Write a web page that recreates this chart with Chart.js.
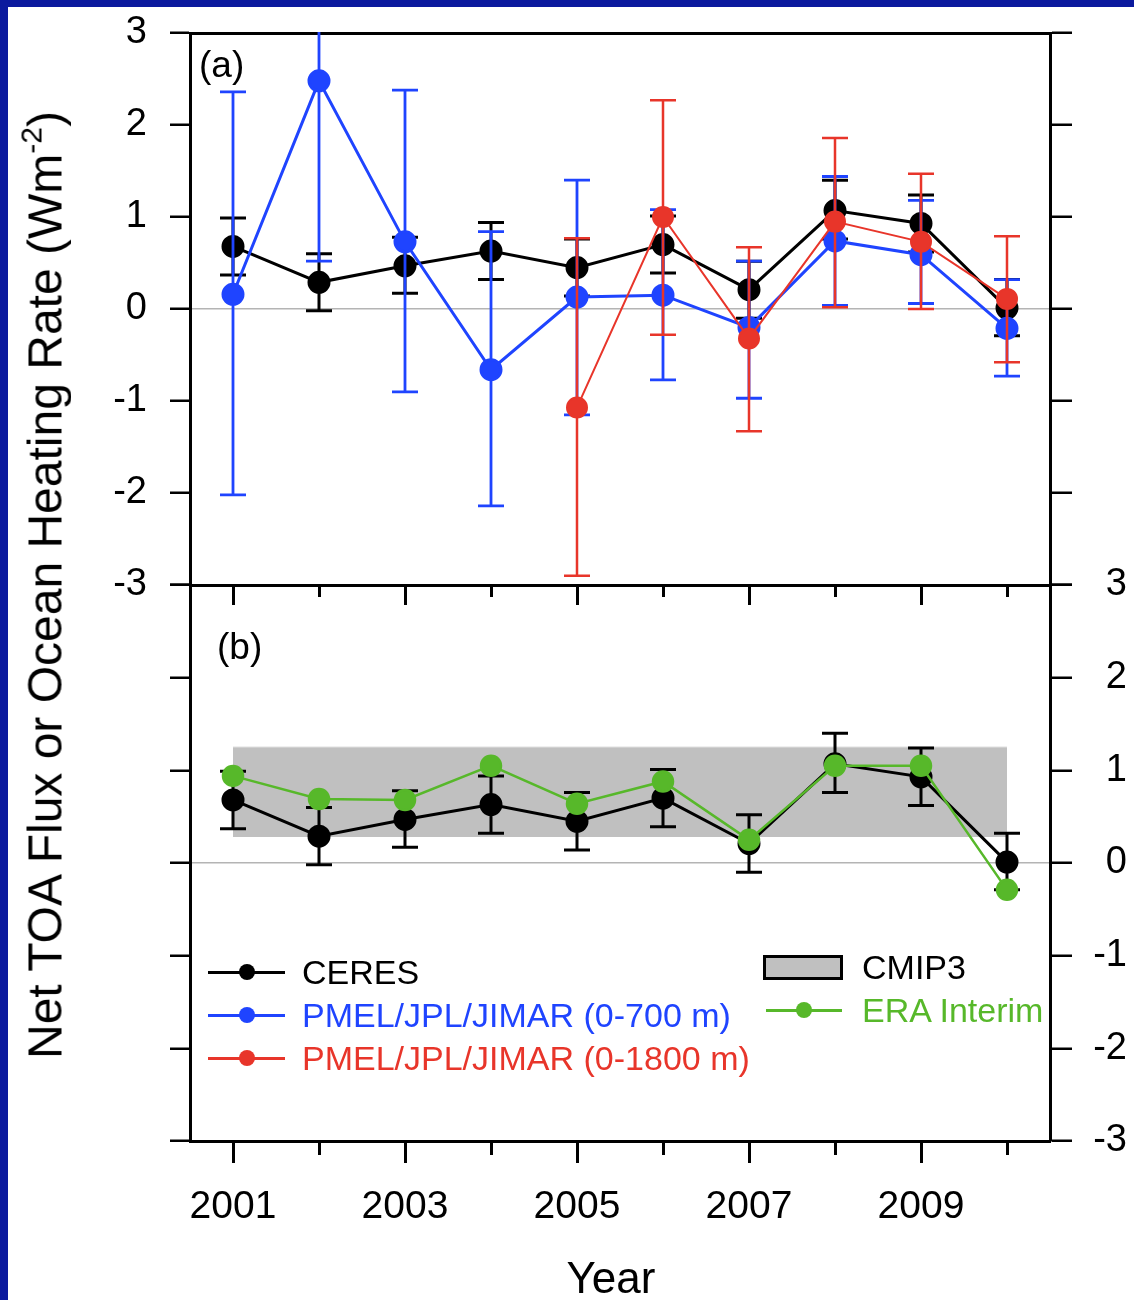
<!DOCTYPE html>
<html>
<head>
<meta charset="utf-8">
<script src="https://cdn.jsdelivr.net/npm/chart.js@4.4.1/dist/chart.umd.min.js"></script>
<style>
  html, body { margin: 0; padding: 0; background: #fff; }
  #page { position: relative; width: 1134px; height: 1300px; overflow: hidden; background: #fff;
          font-family: "Liberation Sans", Arial, sans-serif; color: #000; }
  canvas { position: absolute; left: 0; top: 0; }
  .frame { position: absolute; background: #0b1a9e; }
  .txt { position: absolute; white-space: nowrap; line-height: 1; }
  .ytitle { position: absolute; left: 43px; top: 585px; font-size: 48px; line-height: 1; white-space: nowrap;
            transform: translate(-50%, -50%) rotate(-90deg); }
  .ytitle sup { font-size: 30px; vertical-align: 20px; }
  .leg-line { position: absolute; }
  .leg-dot { position: absolute; border-radius: 50%; }
  .leg-box { position: absolute; background: #c0c0c0; border: 3px solid #000; box-sizing: border-box; }
</style>
</head>
<body>
<div id="page">
  <canvas id="panelA" width="1134" height="1300"></canvas>
  <canvas id="panelB" width="1134" height="1300"></canvas>
  <div class="frame" style="left:0;top:0;width:1134px;height:7px"></div>
  <div class="frame" style="left:0;top:0;width:8px;height:1300px"></div>
  <div class="txt" style="left:199px;top:46px;font-size:37px">(a)</div>
  <div class="txt" style="left:217px;top:628px;font-size:37px">(b)</div>
  <div class="ytitle">Net TOA Flux or Ocean Heating Rate (Wm<sup>-2</sup>)</div>
  <div class="txt" style="left:611px;top:1256px;font-size:44px;transform:translateX(-50%)">Year</div>
  <div id="legend"></div>
</div>
<script>
// years on the x axis
const years = [2001, 2002, 2003, 2004, 2005, 2006, 2007, 2008, 2009, 2010];
const labelYears = [2001, 2003, 2005, 2007, 2009];

// CERES net TOA flux with its error range
const ceres   = [0.68, 0.29, 0.47, 0.63, 0.45, 0.70, 0.21, 1.07, 0.93, 0.01];
const ceresLo = [0.37, -0.02, 0.17, 0.32, 0.14, 0.39, -0.10, 0.76, 0.62, -0.29];
const ceresHi = [0.99, 0.60, 0.78, 0.94, 0.76, 1.01, 0.52, 1.40, 1.24, 0.32];

// PMEL/JPL/JIMAR 0-700 m
const pmel700   = [0.16, 2.48, 0.73, -0.66, 0.13, 0.15, -0.20, 0.74, 0.59, -0.21];
const pmel700Lo = [-2.02, 0.52, -0.90, -2.14, -1.15, -0.77, -0.97, 0.04, 0.06, -0.73];
const pmel700Hi = [2.36, 4.44, 2.38, 0.84, 1.40, 1.08, 0.52, 1.44, 1.18, 0.32];

// PMEL/JPL/JIMAR 0-1800 m (from 2005)
const pmel1800   = [null, null, null, null, -1.07, 1.00, -0.32, 0.95, 0.73, 0.11];
const pmel1800Lo = [null, null, null, null, -2.90, -0.28, -1.33, 0.02, 0.00, -0.58];
const pmel1800Hi = [null, null, null, null, 0.77, 2.27, 0.67, 1.86, 1.47, 0.79];

// ERA Interim
const era = [0.94, 0.69, 0.68, 1.05, 0.64, 0.88, 0.25, 1.05, 1.05, -0.29];

// CMIP3 range
const cmip3Years = [2001, 2010];
const cmip3Low  = [0.28, 0.28];
const cmip3High = [1.25, 1.25];

const BLACK = '#000000';
const BLUE = '#1f44ff';
const RED = '#e8352a';
const GREEN = '#57b82a';
const GRAY = '#c0c0c0';

Chart.defaults.font.family = '"Liberation Sans", Arial, sans-serif';
Chart.defaults.color = '#000';

function pts(xs, ys) {
    return xs.map(function (x, i) { return {x: x, y: ys[i]}; });
}

// vertical error bars, drawn just before each line so the stacking matches
const errorBars = {
    id: 'errorBars',
    beforeDatasetDraw(chart, args) {
        const ds = chart.data.datasets[args.index];
        if (!ds.errLo) return;
        const xs = chart.scales.x, ys = chart.scales.y, area = chart.chartArea;
        const ctx = chart.ctx;
        ctx.save();
        ctx.beginPath();
        ctx.rect(area.left, area.top - 1, area.right - area.left, area.bottom - area.top + 2);
        ctx.clip();
        ctx.strokeStyle = ds.borderColor;
        ctx.lineWidth = ds.errWidth || 2.5;
        ds.data.forEach(function (p, i) {
            if (p.y == null) return;
            const px = xs.getPixelForValue(p.x);
            const lo = ys.getPixelForValue(ds.errLo[i]);
            const hi = ys.getPixelForValue(ds.errHi[i]);
            ctx.beginPath();
            ctx.moveTo(px, lo); ctx.lineTo(px, hi);
            ctx.moveTo(px - 13, lo); ctx.lineTo(px + 13, lo);
            ctx.moveTo(px - 13, hi); ctx.lineTo(px + 13, hi);
            ctx.stroke();
        });
        ctx.restore();
    }
};

function yearTicks(scale) {
    scale.ticks = years.map(function (v) { return {value: v}; });
}
function minorDash(len) {
    return function (c) { return (c.tick && c.tick.value % 2 === 0) ? [len, 300] : []; };
}
function zeroLine(c) {
    return (c.tick && c.tick.value === 0) ? '#b4b4b4' : 'rgba(0,0,0,0)';
}
const border = {display: true, color: '#000', width: 3};

function xAxis(showLabels, tickLen, minorLen, height) {
    return {
        type: 'linear', position: 'bottom', min: 2000.5, max: 2010.5,
        afterBuildTicks: yearTicks,
        afterFit: function (s) { s.height = height; s.paddingLeft = 0; s.paddingRight = 0; },
        border: border,
        grid: {drawOnChartArea: false, tickLength: tickLen, tickWidth: 3, tickColor: '#000',
               tickBorderDash: minorDash(minorLen)},
        ticks: {display: showLabels, autoSkip: false, maxRotation: 0, padding: 21,
                font: {size: 39},
                callback: function (v) { return labelYears.indexOf(v) >= 0 ? String(v) : ''; }}
    };
}
function yAxis(pos, showLabels, width, tickLen) {
    return {
        type: 'linear', position: pos, min: -3, max: 3,
        // keep the label overhang from pushing the plot area around
        afterFit: function (s) { s.width = width; s.paddingTop = 0; s.paddingBottom = 0; },
        border: border,
        grid: {drawOnChartArea: pos === 'left', color: zeroLine, lineWidth: 1.5,
               tickLength: tickLen, tickWidth: 2.5, tickColor: '#000'},
        ticks: {display: showLabels, stepSize: 1, padding: 23, crossAlign: pos === 'right' ? 'far' : 'near',
                font: {size: 38}, callback: function (v) { return String(v); }}
    };
}
function baseOptions(padding, scales) {
    return {
        responsive: false, animation: false, devicePixelRatio: 1,
        layout: {padding: padding},
        plugins: {legend: {display: false}, tooltip: {enabled: false}},
        elements: {line: {tension: 0}, point: {borderWidth: 0, hoverRadius: 10}},
        scales: scales
    };
}
function series(label, ys, color, width, order, lo, hi, errWidth) {
    return {label: label, data: pts(years, ys), borderColor: color, backgroundColor: color,
            pointBackgroundColor: color, borderWidth: width, pointRadius: 10, order: order,
            errLo: lo, errHi: hi, errWidth: errWidth, spanGaps: false};
}

// panel (a)
new Chart(document.getElementById('panelA'), {
    type: 'line',
    data: {datasets: [
        series('CERES', ceres, BLACK, 3, 3, ceresLo, ceresHi, 3),
        series('PMEL/JPL/JIMAR (0-700 m)', pmel700, BLUE, 3, 2, pmel700Lo, pmel700Hi, 2.8),
        series('PMEL/JPL/JIMAR (0-1800 m)', pmel1800, RED, 2, 1, pmel1800Lo, pmel1800Hi, 2.5)
    ]},
    options: baseOptions({left: 0, top: 33, right: 7, bottom: 1300 - 585 - 20}, {
        x: xAxis(false, 20, 10, 20),
        xTop: {type: 'linear', position: 'top', min: 2000.5, max: 2010.5, border: border,
               afterFit: function (s) { s.height = 0; },
               grid: {drawOnChartArea: false, drawTicks: false}, ticks: {display: false}},
        y: yAxis('left', true, 190, 20),
        y2: yAxis('right', false, 77, 22)
    }),
    plugins: [errorBars]
});

// panel (b)
new Chart(document.getElementById('panelB'), {
    type: 'line',
    data: {datasets: [
        {label: 'CMIP3', data: pts(cmip3Years, cmip3High), fill: '+1', backgroundColor: GRAY,
         borderColor: '#d0d0d0', borderWidth: 1, pointRadius: 0, order: 10},
        {label: 'CMIP3 low', data: pts(cmip3Years, cmip3Low), fill: false, borderColor: GRAY,
         borderWidth: 0, pointRadius: 0, order: 11},
        series('CERES', ceres, BLACK, 3, 3, ceresLo, ceresHi, 3),
        series('ERA Interim', era, GREEN, 2.5, 1)
    ]},
    options: baseOptions({left: 0, top: 585, right: 7, bottom: 1300 - 1141 - 100}, {
        x: xAxis(true, 22, 12, 100),
        y: yAxis('left', false, 190, 20),
        y2: yAxis('right', true, 77, 22)
    }),
    plugins: [errorBars]
});

// legend inside panel (b)
const legendRows = [
    {label: 'CERES', color: BLACK, text: BLACK, x: 208, y: 972},
    {label: 'PMEL/JPL/JIMAR (0-700 m)', color: BLUE, text: BLUE, x: 208, y: 1015},
    {label: 'PMEL/JPL/JIMAR (0-1800 m)', color: RED, text: RED, x: 208, y: 1058},
    {label: 'ERA Interim', color: GREEN, text: GREEN, x: 766, y: 1010}
];
const legend = document.getElementById('legend');
let html = '';
legendRows.forEach(function (r) {
    const w = r.x === 208 ? 77 : 76;
    html += '<div class="leg-line" style="left:' + r.x + 'px;top:' + (r.y - 1.5) + 'px;width:' + w +
            'px;height:3px;background:' + r.color + '"></div>';
    html += '<div class="leg-dot" style="left:' + (r.x + w / 2 - 8) + 'px;top:' + (r.y - 8) +
            'px;width:16px;height:16px;background:' + r.color + '"></div>';
    html += '<div class="txt" style="left:' + (r.x === 208 ? 302 : 862) + 'px;top:' + (r.y - 17) +
            'px;font-size:34px;color:' + r.text + '">' + r.label + '</div>';
});
html += '<div class="leg-box" style="left:763px;top:955px;width:80px;height:25px"></div>';
html += '<div class="txt" style="left:862px;top:950px;font-size:34px">CMIP3</div>';
legend.innerHTML = html;
</script>
</body>
</html>
